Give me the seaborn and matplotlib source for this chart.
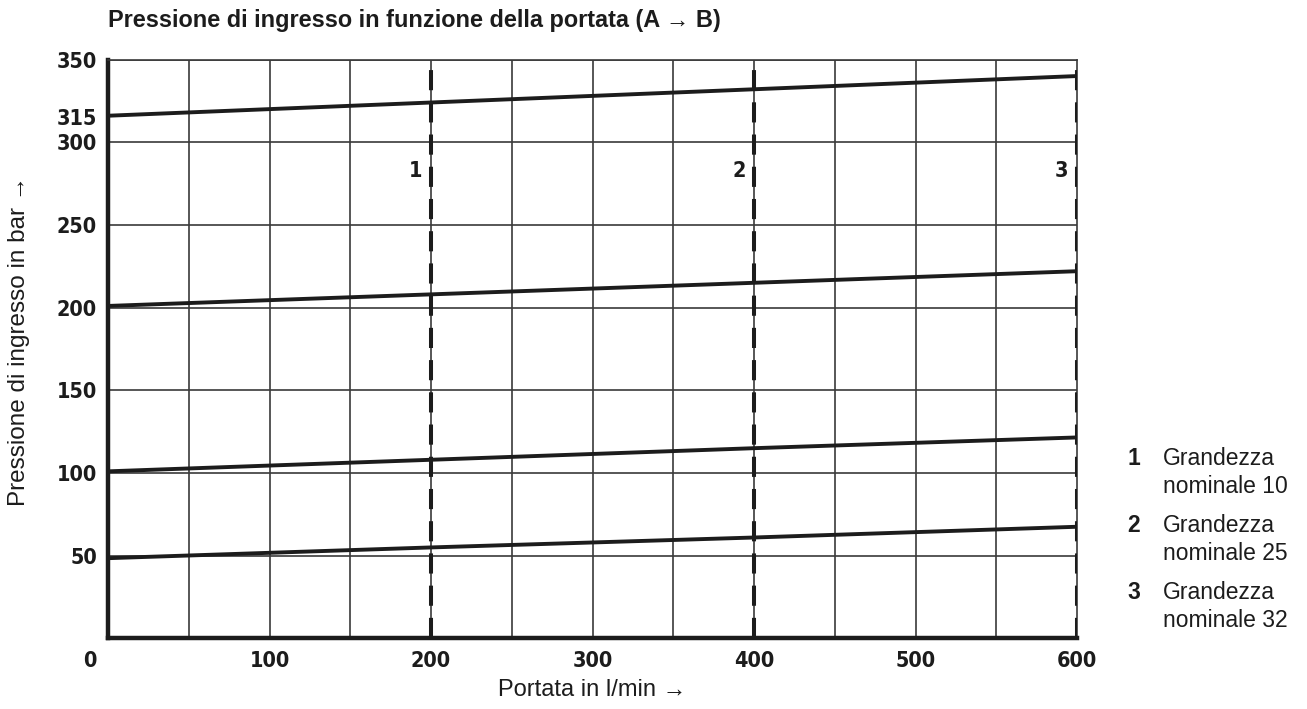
import matplotlib
matplotlib.use("Agg")
import matplotlib.pyplot as plt
from matplotlib import font_manager
from matplotlib.transforms import ScaledTranslation
import seaborn as sns
import pandas as pd

# ---- data ----
flow = [0, 200, 400, 600]                 # l/min
curve_1 = [316, 324, 332, 340]            # bar
curve_2 = [201, 208, 215, 222]
curve_3 = [101, 108, 115, 121.5]
curve_4 = [48.5, 55, 61, 67.5]
size_limits = [200, 400, 600]             # max flow per nominal size
size_labels = ["1", "2", "3"]
legend_names = ["Grandezza\nnominale 10", "Grandezza\nnominale 25", "Grandezza\nnominale 32"]
xtick_vals = [0, 100, 200, 300, 400, 500, 600]
ytick_vals = [50, 100, 150, 200, 250, 300, 315, 350]
title = "Pressione di ingresso in funzione della portata (A \u2192 B)"
xlabel = "Portata in l/min \u2192"
ylabel = "Pressione di ingresso in bar \u2192"

df = pd.DataFrame({
    "flow": flow * 4,
    "pressure": curve_1 + curve_2 + curve_3 + curve_4,
    "curve": sum([[i] * len(flow) for i in range(4)], []),
})

sns.set_style("white")
names = {f.name for f in font_manager.fontManager.ttflist}
plt.rcParams["font.family"] = ["Liberation Sans", "DejaVu Sans"]
if "Liberation Sans Narrow" in names:
    cond = dict(family=["Liberation Sans Narrow", "DejaVu Sans"], fontweight="bold")
    tick_fs = 17
else:
    cond = dict(family=["DejaVu Sans"], fontweight="bold", fontstretch="condensed")
    tick_fs = 15.5

W, H = 1307, 709
fig = plt.figure(figsize=(W / 100, H / 100), dpi=100)
ax = fig.add_axes([108 / W, 1 - 638.4 / H, (1077 - 108) / W, (638.4 - 59.5) / H])

ink = "#1c1c1c"
grid_c = "#3a3a3a"

sns.lineplot(data=df, x="flow", y="pressure", units="curve", estimator=None,
             color=ink, lw=2.8, ax=ax, zorder=4, legend=False)

ax.set_xlim(0, 600)
ax.set_ylim(0, 350)

ax.set_xticks(xtick_vals)
ax.set_xticks(range(50, 600, 50), minor=True)
ax.set_yticks(ytick_vals)
ax.set_yticks(range(50, 351, 50), minor=True)
ax.xaxis.remove_overlapping_locs = False
ax.yaxis.remove_overlapping_locs = False
ax.grid(False)
ax.grid(True, which="minor", color=grid_c, lw=1.2)
ax.tick_params(which="both", length=0)
ax.tick_params(axis="y", pad=8)
ax.tick_params(axis="x", pad=9)

ax.set_xticklabels([str(v) for v in xtick_vals])
ax.set_yticklabels([str(v) for v in ytick_vals])
for lab in ax.get_xticklabels() + ax.get_yticklabels():
    lab.set_fontsize(tick_fs)
    lab.set_color(ink)
    lab.set_fontweight("bold")
    lab.set_family(cond["family"])
    if "fontstretch" in cond:
        lab.set_fontstretch(cond["fontstretch"])
# corner "0" sits left of the axis origin
xl = ax.get_xticklabels()
xl[0].set_transform(xl[0].get_transform() + ScaledTranslation(-18 / 100, 0, fig.dpi_scale_trans))

for s in ["left", "bottom"]:
    ax.spines[s].set_linewidth(3.2)
    ax.spines[s].set_color(ink)
for s in ["top", "right"]:
    ax.spines[s].set_linewidth(1.2)
    ax.spines[s].set_color(grid_c)

for xv, lab in zip(size_limits, size_labels):
    ax.axvline(xv, color=ink, lw=2.9, dashes=(5, 3), zorder=3)
    ax.annotate(lab, xy=(xv, 282.5), xytext=(-6, 0), textcoords="offset points",
                ha="right", va="center", fontsize=tick_fs, color=ink, **cond)

ax.set_xlabel(xlabel, fontsize=17, color=ink, labelpad=6)
ax.set_ylabel(ylabel, fontsize=17.5, color=ink)
ax.yaxis.set_label_coords((30 - 108) / 969, (638.4 - 341) / 578.9)

fig.text(108 / W, 1 - 21 / H, title, fontsize=16.9, fontweight="bold",
         color=ink, ha="left", va="center")

y0 = 465
for i, (lab, name) in enumerate(zip(size_labels, legend_names)):
    yb = y0 + 67 * i
    fig.text(1134 / W, 1 - yb / H, lab, fontsize=16.5, fontweight="bold",
             color=ink, ha="center", va="baseline")
    for j, line in enumerate(name.split("\n")):
        fig.text(1163 / W, 1 - (yb + 28 * j) / H, line, fontsize=16.5,
                 color=ink, ha="left", va="baseline")

fig.savefig("out.png", dpi=100, facecolor="white")
